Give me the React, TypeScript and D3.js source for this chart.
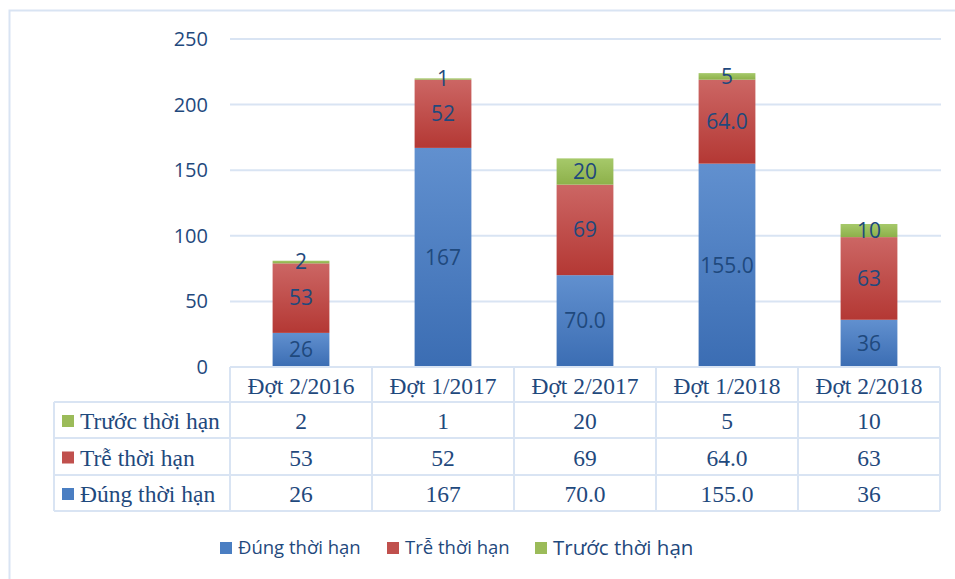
import React from "react";
import * as d3 from "d3";

const categories = ["Đợt 2/2016", "Đợt 1/2017", "Đợt 2/2017", "Đợt 1/2018", "Đợt 2/2018"];
const seriesNames = ["Đúng thời hạn", "Trễ thời hạn", "Trước thời hạn"];
const dungThoiHan = [26, 167, 70, 155, 36];
const treThoiHan = [53, 52, 69, 64, 63];
const truocThoiHan = [2, 1, 20, 5, 10];
// labels as shown in the source (some carry one decimal)
const dungLabels = ["26", "167", "70.0", "155.0", "36"];
const treLabels = ["53", "52", "69", "64.0", "63"];
const truocLabels = ["2", "1", "20", "5", "10"];
const yTicks = [0, 50, 100, 150, 200, 250];

const TXT = "#1F497D";
const GRID = "#D9E4F3";
const grads = [
  ["#6190CF", "#3B6DB3"],
  ["#CC6664", "#B43834"],
  ["#A6C96A", "#8DB04A"],
];
const swatch = ["#4A7EC2", "#C0504D", "#9BBB59"];

export default function App() {
  const W = 955, H = 579;
  const left = 230, right = 940, top = 39, base = 367;

  const x = d3.scaleBand().domain(categories).range([left, right]).paddingInner(0.6).paddingOuter(0.3);
  const col = d3.scaleBand().domain(categories).range([left, right]);
  const y = d3.scaleLinear().domain([0, 250]).range([base, top]);

  const rows = categories.map((c, i) => ({ cat: c, a: dungThoiHan[i], b: treThoiHan[i], c2: truocThoiHan[i] }));
  const stack = d3.stack<any>().keys(["a", "b", "c2"])(rows);
  const labels = [dungLabels, treLabels, truocLabels];

  // table rows shown top to bottom
  const tableRows = [
    { name: seriesNames[2], labels: truocLabels, color: swatch[2] },
    { name: seriesNames[1], labels: treLabels, color: swatch[1] },
    { name: seriesNames[0], labels: dungLabels, color: swatch[0] },
  ];
  const rowY = [367, 402, 438, 475, 511];
  const tableLeft = 54;

  const legend = [
    { name: seriesNames[0], x: 220, color: swatch[0], size: 18.5 },
    { name: seriesNames[1], x: 387, color: swatch[1], size: 18.5 },
    { name: seriesNames[2], x: 535, color: swatch[2], size: 20.5 },
  ];

  return (
    <svg width={W} height={H} style={{ position: "absolute", left: 0, top: 0, background: "#fff" }}>
      <defs>
        {grads.map((g, i) => (
          <linearGradient key={i} id={`g${i}`} x1="0" y1="0" x2="0" y2="1">
            <stop offset="0" stopColor={g[0]} />
            <stop offset="1" stopColor={g[1]} />
          </linearGradient>
        ))}
      </defs>
      <rect x={9.5} y={10.5} width={980} height={600} fill="none" stroke={GRID} strokeWidth={2} />

      {/* grid + y ticks */}
      {yTicks.map(t => (
        <g key={t}>
          {t > 0 && <line x1={left} x2={right + 1} y1={y(t)} y2={y(t)} stroke={GRID} strokeWidth={2} />}
          <text x={208} y={y(t)} dy="0.35em" textAnchor="end" fontFamily="'Open Sans', sans-serif" fontSize={20} fill={TXT}>
            {t}
          </text>
        </g>
      ))}

      {/* bars */}
      {stack.map((s, si) => (
        <g key={si}>
          {s.map((d, i) => {
            const y0 = y(d[0]), y1 = y(d[1]);
            return (
              <g key={i}>
                <rect x={x(categories[i])} y={y1} width={x.bandwidth()} height={y0 - y1} fill={`url(#g${si})`} />
                <text
                  x={(x(categories[i]) as number) + x.bandwidth() / 2}
                  y={(y0 + y1) / 2}
                  dy="0.35em"
                  textAnchor="middle"
                  fontFamily="'Open Sans', sans-serif"
                  fontSize={21}
                  fill={TXT}
                >
                  {labels[si][i]}
                </text>
              </g>
            );
          })}
        </g>
      ))}

      {/* data table */}
      <g stroke={GRID} strokeWidth={2} fill="none">
        <line x1={left} x2={right} y1={rowY[0]} y2={rowY[0]} />
        {rowY.slice(1).map((ry, i) => (
          <line key={i} x1={tableLeft} x2={right} y1={ry} y2={ry} />
        ))}
        <line x1={tableLeft} x2={tableLeft} y1={rowY[1]} y2={rowY[4]} />
        {categories.map(c => (
          <line key={c} x1={col(c)} x2={col(c)} y1={rowY[0]} y2={rowY[4]} />
        ))}
        <line x1={right} x2={right} y1={rowY[0]} y2={rowY[4]} />
      </g>
      {categories.map(c => (
        <text
          key={c}
          x={(col(c) as number) + col.bandwidth() / 2}
          y={(rowY[0] + rowY[1]) / 2 + 1}
          dy="0.35em"
          textAnchor="middle"
          fontFamily="'Liberation Serif', serif"
          fontSize={23.5}
          fill={TXT}
        >
          {c}
        </text>
      ))}
      {tableRows.map((r, ri) => {
        const cy = (rowY[ri + 1] + rowY[ri + 2]) / 2 + 1;
        return (
          <g key={ri}>
            <rect x={62} y={cy - 6} width={12} height={12} fill={r.color} />
            <text x={80} y={cy} dy="0.35em" fontFamily="'Liberation Serif', serif" fontSize={23.5} fill={TXT}>
              {r.name}
            </text>
            {categories.map((c, i) => (
              <text
                key={c}
                x={(col(c) as number) + col.bandwidth() / 2}
                y={cy}
                dy="0.35em"
                textAnchor="middle"
                fontFamily="'Liberation Serif', serif"
                fontSize={23.5}
                fill={TXT}
              >
                {r.labels[i]}
              </text>
            ))}
          </g>
        );
      })}

      {/* legend */}
      {legend.map(l => (
        <g key={l.name}>
          <rect x={l.x} y={542} width={12} height={12} fill={l.color} />
          <text x={l.x + 18} y={548} dy="0.35em" fontFamily="'Open Sans', sans-serif" fontSize={l.size} fill={TXT}>
            {l.name}
          </text>
        </g>
      ))}
    </svg>
  );
}
